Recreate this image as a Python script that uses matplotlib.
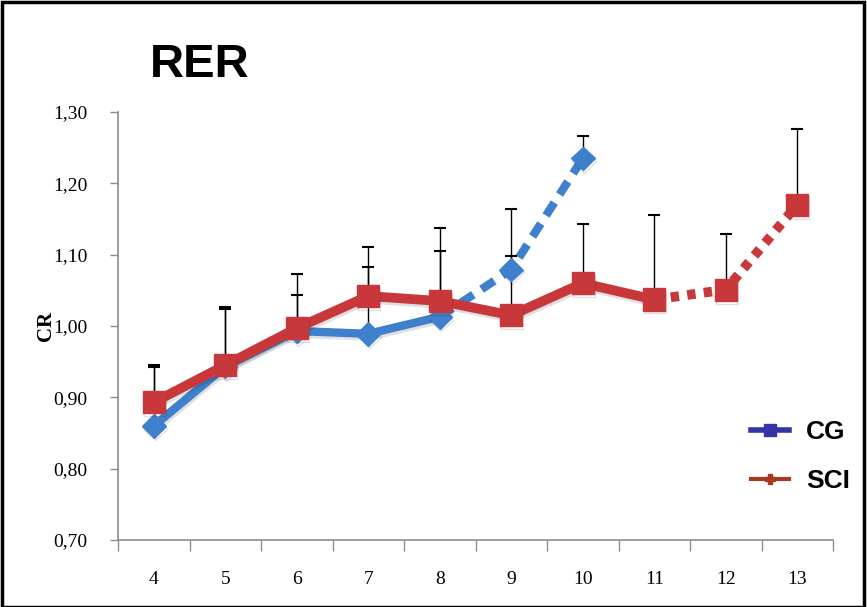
import matplotlib
matplotlib.use("Agg")
import matplotlib.pyplot as plt
import matplotlib.patheffects as pe
from matplotlib.lines import Line2D
from matplotlib.patches import Rectangle
from matplotlib.ticker import FixedLocator, NullFormatter

# Weeks and RER values (mean with upper SD)
weeks = [4, 5, 6, 7, 8, 9, 10, 11, 12, 13]
cg_weeks = [4, 5, 6, 7, 8, 9, 10]
cg_mean = [0.860, 0.943, 0.993, 0.989, 1.013, 1.079, 1.235]
cg_err = [0.083, 0.081, 0.050, 0.122, 0.092, 0.019, 0.031]
sci_mean = [0.893, 0.945, 0.997, 1.042, 1.035, 1.015, 1.060, 1.037, 1.051, 1.170]
sci_err = [0.053, 0.082, 0.076, 0.041, 0.102, 0.149, 0.083, 0.119, 0.078, 0.106]
y_ticks = [0.70, 0.80, 0.90, 1.00, 1.10, 1.20, 1.30]
y_labels = ["0,70", "0,80", "0,90", "1,00", "1,10", "1,20", "1,30"]

plt.rcParams["lines.scale_dashes"] = False

W, H, DPI = 867, 607, 100
fig = plt.figure(figsize=(W / DPI, H / DPI), dpi=DPI)
ax = fig.add_axes([118 / W, 1 - 540 / H, (833 - 118) / W, (540 - 112) / H])

blue = "#3F80CC"
red = "#C8383A"
shadow = [pe.SimpleLineShadow(offset=(0.8, -2), alpha=0.12, shadow_color="black"), pe.Normal()]

# Error bars (upper only)
ax.errorbar(cg_weeks, cg_mean, yerr=[[0] * len(cg_err), cg_err], fmt="none",
            ecolor="black", elinewidth=1.0, capsize=4, capthick=1.5, zorder=3.5)
ax.errorbar(weeks, sci_mean, yerr=[[0] * len(sci_err), sci_err], fmt="none",
            ecolor="black", elinewidth=1.0, capsize=4, capthick=1.5, zorder=3.5)

# CG: solid up to week 8, dashed afterwards
ax.plot(cg_weeks[:5], cg_mean[:5], color=blue, lw=6, solid_capstyle="round",
        zorder=2, path_effects=shadow)
ax.plot(cg_weeks[4:], cg_mean[4:], color=blue, lw=6, dashes=(11, 7), zorder=2)
ax.plot(cg_weeks, cg_mean, ls="none", marker="D", ms=12, color=blue,
        mec=blue, zorder=4, path_effects=shadow)

# SCI: solid up to week 11, dotted afterwards
ax.plot(weeks[:8], sci_mean[:8], color=red, lw=7, solid_capstyle="round",
        zorder=3, path_effects=shadow)
ax.plot(weeks[7:], sci_mean[7:], color=red, lw=7, dashes=(6, 6), zorder=3)
ax.plot(weeks, sci_mean, ls="none", marker="s", ms=16, color=red,
        mec=red, zorder=5, path_effects=shadow)

ax.set_xlim(3.5, 13.5)
ax.set_ylim(0.70, 1.30)

for s in ["top", "right"]:
    ax.spines[s].set_visible(False)
for s in ["left", "bottom"]:
    ax.spines[s].set_color("#8C8C8C")
    ax.spines[s].set_linewidth(1.2)

ax.set_yticks(y_ticks)
ax.set_yticklabels(y_labels, family="Liberation Serif", fontsize=14)
ax.tick_params(axis="y", length=6, width=1, color="#8C8C8C", pad=16)

ax.set_xticks(weeks)
ax.set_xticklabels([str(w) for w in weeks], family="Liberation Serif", fontsize=14)
ax.xaxis.set_minor_locator(FixedLocator([w - 0.5 for w in weeks] + [13.5]))
ax.xaxis.set_minor_formatter(NullFormatter())
ax.tick_params(axis="x", which="major", length=0, pad=22)
ax.tick_params(axis="x", which="minor", length=8, width=1, color="#8C8C8C")

ax.set_ylabel("CR", family="Liberation Serif", fontsize=15, fontweight="bold", labelpad=-2)

fig.text(150 / W, 1 - 77 / H, "RER", family="Liberation Sans", fontsize=34,
         fontweight="bold", ha="left", va="baseline")

handles = [
    Line2D([], [], color="#3434A6", lw=4, marker="s", ms=8),
    Line2D([], [], color="#A53A20", lw=3, marker="P", ms=7),
]
leg = fig.legend(handles, ["CG", "SCI"], loc="upper left",
                 bbox_to_anchor=(727 / W, 1 - 396 / H), frameon=False,
                 prop={"family": "Liberation Sans", "weight": "bold", "size": 19},
                 handlelength=1.45, labelspacing=0.95, handletextpad=0.65)

# Outer border
fig.patches.append(Rectangle((0.002, 0.0), 0.995, 0.997, transform=fig.transFigure,
                             fill=False, edgecolor="black", lw=2.5))

fig.savefig("out.png", dpi=DPI)
